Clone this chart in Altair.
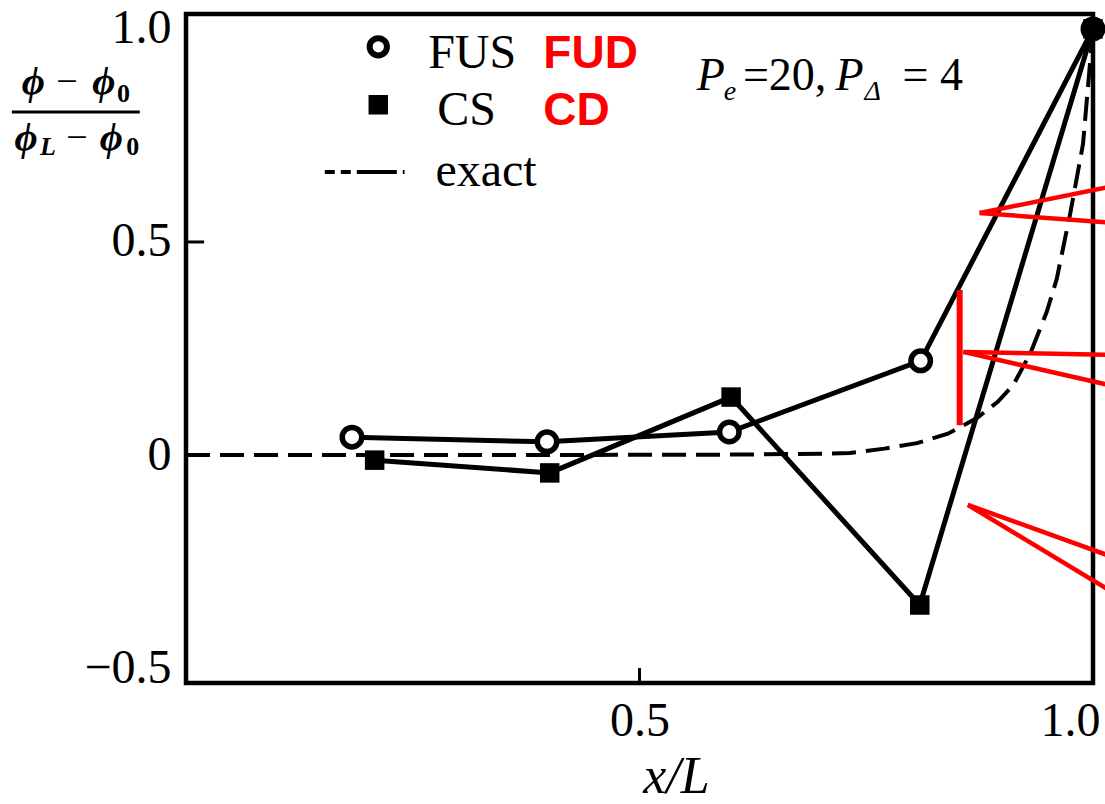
import altair as alt
import pandas as pd

# ---------------- data ----------------
fus_x = [0.183, 0.398, 0.599, 0.810, 1.0]
fus_y = [0.042, 0.031, 0.054, 0.221, 1.0]
cs_x = [0.208, 0.401, 0.601, 0.809, 1.0]
cs_y = [-0.012, -0.042, 0.136, -0.352, 1.0]
exact_x = [0.0, 0.2, 0.4, 0.6, 0.70, 0.732, 0.77, 0.806, 0.84, 0.872, 0.895,
           0.912, 0.931, 0.949, 0.960, 0.975, 0.989, 1.0]
exact_y = [0.0, 0.0, 0.0, 0.001, 0.003, 0.005, 0.015, 0.028, 0.05, 0.087, 0.125,
           0.164, 0.239, 0.336, 0.413, 0.568, 0.730, 1.0]

x_ticks = [0.5, 1.0]
y_ticks = [-0.5, 0.0, 0.5, 1.0]
x_domain = [0.0, 1.0]
y_domain = [-0.535, 1.035]

# legend (positions in data units)
legend_labels = ["FUS", "CS", "exact"]
legend_text_x = [0.267, 0.277, 0.275]
legend_text_y = [0.908, 0.775, 0.631]
legend_circle = [0.212, 0.958]
legend_square = [0.212, 0.822]
legend_dash_x = [0.153, 0.241]
legend_dash_y = [0.664, 0.664]

# red annotations
red_labels = ["FUD", "CD"]
red_label_x = [0.394, 0.394]
red_label_y = [0.908, 0.775]
red_x1 = [1.02, 1.02, 1.02, 1.02, 1.02, 1.02]
red_y1 = [0.630, 0.545, 0.235, 0.163, -0.238, -0.320]
red_x2 = [0.875, 0.875, 0.857, 0.857, 0.862, 0.862]
red_y2 = [0.568, 0.568, 0.242, 0.242, -0.117, -0.117]
red_bar_x = [0.853]
red_bar_y = [0.387]
red_bar_y2 = [0.070]

# parameter text  "P_e = 20, P_Δ = 4"
param_main_txt = ["=20,", "= 4"]
param_main_x = [0.614, 0.790]
param_italic_txt = ["P", "P"]
param_italic_x = [0.563, 0.716]
param_main_y = 0.857
param_sub_txt = ["e", "Δ"]
param_sub_x = [0.593, 0.748]
param_sub_y = 0.833

# y-axis title fraction (phi - phi0)/(phiL - phi0)
frac_phi_txt = ["ϕ", "ϕ", "ϕ", "ϕ"]
frac_phi_x = [-0.181, -0.1035, -0.189, -0.095]
frac_phi_y = [0.847, 0.847, 0.716, 0.716]
frac_minus_x = [-0.143, -0.132]
frac_minus_y = [0.847, 0.716]
frac_zero_x = [-0.076, -0.066]
frac_zero_y = [0.829, 0.704]
frac_L_x = [-0.161]
frac_L_y = [0.704]
frac_line_x = [-0.192]
frac_line_x2 = [-0.051]
frac_line_y = [0.805]

tick_x_pos = [0.5]
tick_y_pos = [0.5]

# ---------------- scales / axes ----------------
xs = alt.Scale(domain=x_domain, nice=False, zero=False)
ys = alt.Scale(domain=y_domain, nice=False, zero=False)
SERIF = "Liberation Serif"
GREEK = "Liberation Serif, DejaVu Serif, serif"

x_axis = alt.Axis(
    values=x_ticks, title="x/L", format=".1f", grid=False, domain=False, ticks=False,
    labelFont=SERIF, labelFontSize=48, labelColor="black", labelPadding=14,
    labelFlush=False,
    labelOffset={"condition": {"test": "datum.value == 1", "value": -23}, "value": 0},
    titleFont=SERIF, titleFontStyle="italic", titleFontWeight="normal",
    titleFontSize=52, titleColor="black", titleX=490, titleY=109,
    titleBaseline="alphabetic", titleAlign="center",
)
y_axis = alt.Axis(
    values=y_ticks, title="", grid=False, domain=False, ticks=False,
    labelExpr="datum.value == 0 ? '0' : format(datum.value, '.1f')",
    labelFont=SERIF, labelFontSize=48, labelColor="black", labelBaseline="middle",
    labelPadding=15,
)


def X(field="x"):
    return alt.X(field, type="quantitative", scale=xs, axis=x_axis)


def Y(field="y"):
    return alt.Y(field, type="quantitative", scale=ys, axis=y_axis)


def text_layer(xv, yv, tv, **kw):
    df = pd.DataFrame({"x": xv, "y": yv, "t": tv})
    return alt.Chart(df).mark_text(align="left", baseline="alphabetic", color=kw.pop("color", "black"), **kw).encode(
        x=X(), y=Y(), text="t:N")


# ---------------- data frames ----------------
series_df = pd.DataFrame({
    "x": fus_x + cs_x,
    "y": fus_y + cs_y,
    "s": ["FUS"] * len(fus_x) + ["CS"] * len(cs_x),
})
fus_df = pd.DataFrame({"x": fus_x, "y": fus_y})
cs_df = pd.DataFrame({"x": cs_x, "y": cs_y})
exact_df = pd.DataFrame({"x": exact_x, "y": exact_y})

layers = []

# exact solution (dashed)
layers.append(alt.Chart(exact_df).mark_line(
    color="black", strokeWidth=4, strokeDash=[24, 10]
).encode(x=X(), y=Y()))

# numerical solutions
layers.append(alt.Chart(series_df).mark_line(
    color="black", strokeWidth=5
).encode(x=X(), y=Y(), detail="s:N"))

layers.append(alt.Chart(fus_df).mark_point(
    shape="circle", size=380, filled=True, fill="white", stroke="black",
    strokeWidth=5.5, opacity=1
).encode(x=X(), y=Y()))

layers.append(alt.Chart(cs_df).mark_point(
    shape="square", size=380, filled=True, color="black", opacity=1
).encode(x=X(), y=Y()))

# inward ticks
layers.append(alt.Chart(pd.DataFrame({"x": tick_x_pos})).mark_rule(
    color="black", strokeWidth=3
).encode(x=X(), y=alt.datum(y_domain[0]), y2=alt.datum(-0.5)))
layers.append(alt.Chart(pd.DataFrame({"y": tick_y_pos})).mark_rule(
    color="black", strokeWidth=3
).encode(y=Y(), x=alt.datum(0.0), x2=alt.datum(0.02)))

# legend
layers.append(alt.Chart(pd.DataFrame({"x": [legend_circle[0]], "y": [legend_circle[1]]})).mark_point(
    shape="circle", size=300, filled=True, fill="white", stroke="black", strokeWidth=6, opacity=1
).encode(x=X(), y=Y()))
layers.append(alt.Chart(pd.DataFrame({"x": [legend_square[0]], "y": [legend_square[1]]})).mark_point(
    shape="square", size=380, filled=True, color="black", opacity=1
).encode(x=X(), y=Y()))
layers.append(alt.Chart(pd.DataFrame({"x": legend_dash_x, "y": legend_dash_y})).mark_line(
    color="black", strokeWidth=4, strokeDash=[10, 6, 10, 6, 40, 6]
).encode(x=X(), y=Y()))
layers.append(text_layer(legend_text_x, legend_text_y, legend_labels, font=SERIF, fontSize=48))

# red annotations
layers.append(text_layer(red_label_x, red_label_y, red_labels, font="Liberation Sans",
                         fontWeight="bold", fontSize=46, color="#ff0000"))
layers.append(alt.Chart(pd.DataFrame({"x": red_x1, "y": red_y1, "x2": red_x2, "y2": red_y2})).mark_rule(
    color="#ff0000", strokeWidth=4.5
).encode(x=X(), y=Y(), x2="x2:Q", y2="y2:Q"))
layers.append(alt.Chart(pd.DataFrame({"x": red_bar_x, "y": red_bar_y, "y2": red_bar_y2})).mark_rule(
    color="#ff0000", strokeWidth=6
).encode(x=X(), y=Y(), y2="y2:Q"))

# parameter text
layers.append(text_layer(param_italic_x, [param_main_y] * 2, param_italic_txt,
                         font=SERIF, fontSize=46, fontStyle="italic"))
layers.append(text_layer(param_main_x, [param_main_y] * 2, param_main_txt, font=SERIF, fontSize=46))
layers.append(text_layer(param_sub_x, [param_sub_y] * 2, param_sub_txt,
                         font=SERIF, fontSize=28, fontStyle="italic"))

# y-axis title as fraction
layers.append(text_layer(frac_phi_x, frac_phi_y, frac_phi_txt, font=GREEK, fontSize=40,
                         fontStyle="italic", fontWeight="bold"))
layers.append(text_layer(frac_minus_x, frac_minus_y, ["−", "−"], font=SERIF, fontSize=38))
layers.append(text_layer(frac_zero_x, frac_zero_y, ["0", "0"], font=SERIF, fontSize=26, fontWeight="bold"))
layers.append(text_layer(frac_L_x, frac_L_y, ["L"], font=SERIF, fontSize=26, fontStyle="italic", fontWeight="bold"))
layers.append(alt.Chart(pd.DataFrame({"x": frac_line_x, "x2": frac_line_x2, "y": frac_line_y})).mark_rule(
    color="black", strokeWidth=3
).encode(x=X(), x2="x2:Q", y=Y()))

chart = alt.layer(*layers).properties(
    width=907, height=669,
    autosize=alt.AutoSizeParams(type="none"),
    padding={"left": 186, "top": 14, "right": 12, "bottom": 121},
    background="white",
).configure_view(stroke="black", strokeWidth=4.5)

chart.save("out.html", embed_options={"renderer": "svg", "actions": False})
